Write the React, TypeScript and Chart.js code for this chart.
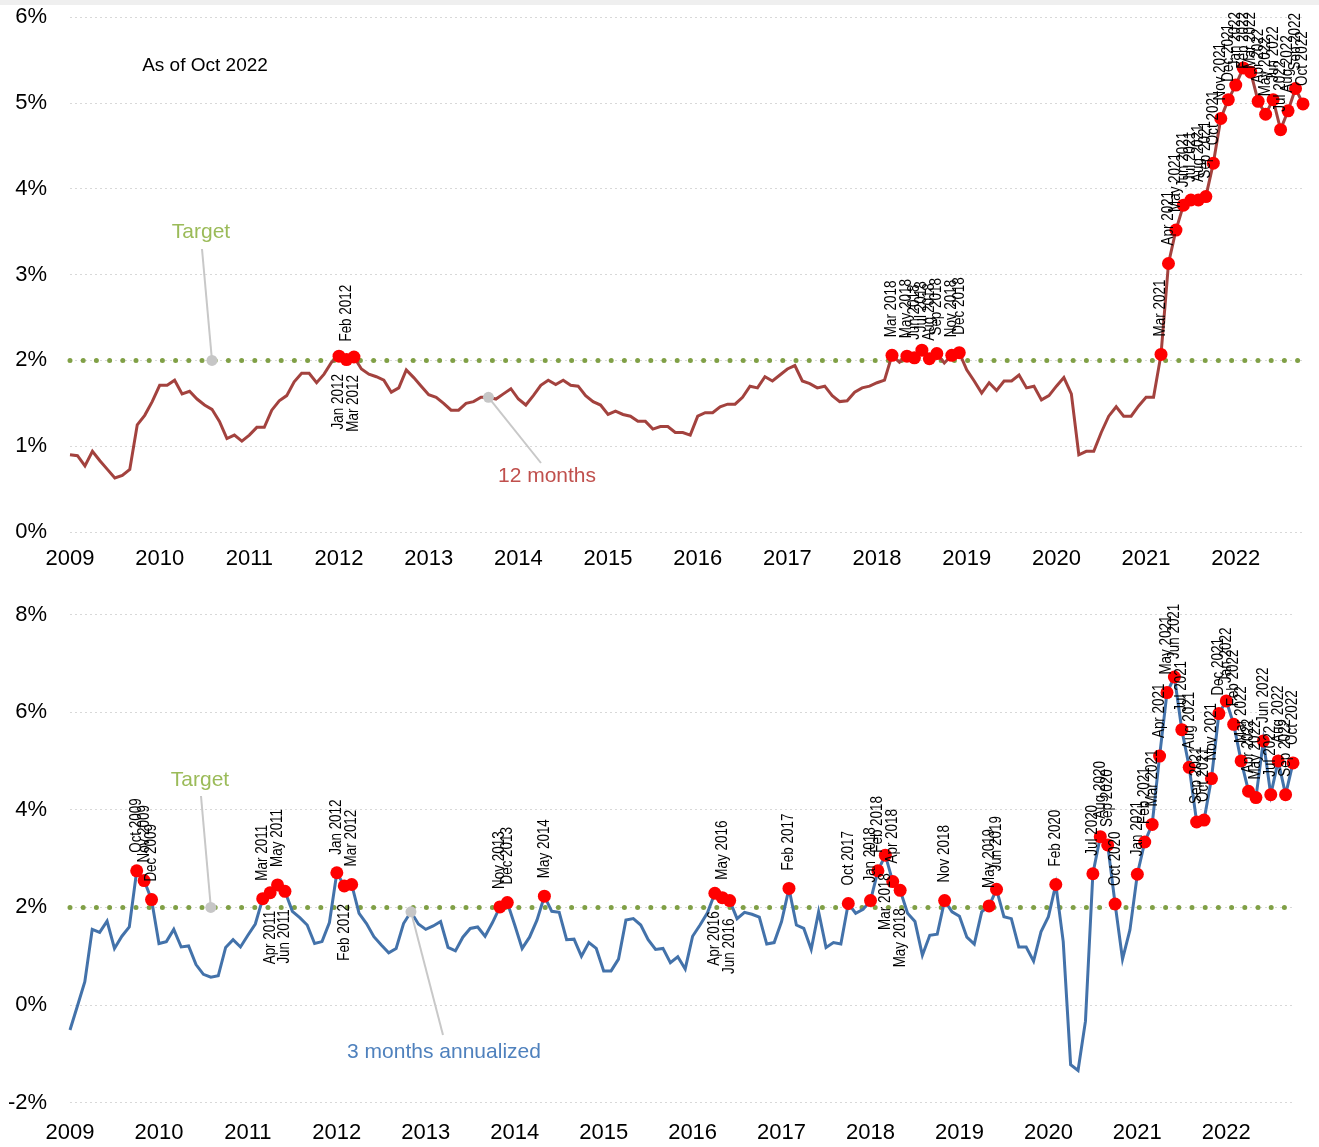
import React, { useEffect, useRef } from "react";
import { Chart, registerables } from "chart.js";

Chart.register(...registerables);

// ---------- data ----------
const MONTH_NAMES = ["Jan", "Feb", "Mar", "Apr", "May", "Jun", "Jul", "Aug", "Sep", "Oct", "Nov", "Dec"];
const YEARS = [2009, 2010, 2011, 2012, 2013, 2014, 2015, 2016, 2017, 2018, 2019, 2020, 2021, 2022];
const YEAR_TICK_LABELS = YEARS.map((y) => String(y));

// 12-month change, Jan 2009 .. Oct 2022
const TWELVE_MONTHS = [
  0.9, 0.89, 0.77, 0.94, 0.83, 0.73, 0.63, 0.66, 0.73, 1.25, 1.36, 1.52,
  1.71, 1.71, 1.77, 1.61, 1.64, 1.55, 1.48, 1.43, 1.29, 1.09, 1.13, 1.06,
  1.13, 1.22, 1.22, 1.42, 1.53, 1.59, 1.75, 1.85, 1.85, 1.74, 1.84, 1.98,
  2.05, 2.01, 2.04, 1.9, 1.84, 1.81, 1.77, 1.63, 1.68, 1.89, 1.8, 1.7,
  1.6, 1.57, 1.5, 1.42, 1.42, 1.5, 1.52, 1.57, 1.57, 1.55, 1.61, 1.67,
  1.55, 1.48, 1.59, 1.71, 1.77, 1.72, 1.77, 1.71, 1.7, 1.59, 1.52, 1.48,
  1.37, 1.41, 1.37, 1.35, 1.29, 1.29, 1.2, 1.23, 1.23, 1.16, 1.16, 1.13,
  1.35, 1.39, 1.39, 1.46, 1.49, 1.49, 1.57, 1.7, 1.68, 1.81, 1.76, 1.83,
  1.9, 1.94, 1.76, 1.73, 1.68, 1.7, 1.59, 1.52, 1.53, 1.63, 1.68, 1.7,
  1.74, 1.77, 2.06, 1.98, 2.05, 2.03, 2.12, 2.02, 2.08, 1.97, 2.06, 2.09,
  1.89, 1.76, 1.62, 1.74, 1.65, 1.76, 1.76, 1.83, 1.68, 1.7, 1.54, 1.59,
  1.7, 1.8, 1.61, 0.9, 0.94, 0.94, 1.16, 1.35, 1.46, 1.35, 1.35, 1.47,
  1.57, 1.57, 2.07, 3.13, 3.52, 3.81, 3.87, 3.87, 3.91, 4.3, 4.82, 5.04,
  5.21, 5.41, 5.36, 5.02, 4.87, 5.04, 4.69, 4.91, 5.17, 4.99,
];

// 3-month annualized change, Jan 2009 .. Oct 2022
const THREE_MONTHS_ANNUALIZED = [
  -0.51, -0.02, 0.48, 1.55, 1.49, 1.72, 1.16, 1.41, 1.6, 2.75, 2.55, 2.16,
  1.26, 1.3, 1.55, 1.19, 1.21, 0.83, 0.63, 0.57, 0.6, 1.18, 1.34, 1.19,
  1.43, 1.66, 2.18, 2.3, 2.46, 2.33, 1.92, 1.79, 1.64, 1.26, 1.3, 1.69,
  2.71, 2.44, 2.47, 1.88, 1.67, 1.4, 1.23, 1.07, 1.16, 1.67, 1.91, 1.66,
  1.55, 1.62, 1.71, 1.18, 1.11, 1.39, 1.57, 1.6, 1.41, 1.69, 2.01, 2.1,
  1.64, 1.16, 1.39, 1.74, 2.23, 1.92, 1.9, 1.34, 1.35, 1.0, 1.28, 1.16,
  0.7, 0.7, 0.94, 1.74, 1.77, 1.64, 1.34, 1.14, 1.16, 0.87, 0.99, 0.74,
  1.41, 1.64, 1.89, 2.29, 2.2, 2.14, 1.77, 1.9, 1.86, 1.8, 1.25, 1.28,
  1.71, 2.39, 1.64, 1.57, 1.14, 1.91, 1.18, 1.28, 1.25, 2.08, 1.88, 1.96,
  2.14, 2.75, 3.07, 2.53, 2.35, 1.88, 1.71, 1.02, 1.43, 1.45, 2.14, 1.91,
  1.82, 1.39, 1.25, 1.91, 2.03, 2.37, 1.81, 1.77, 1.19, 1.19, 0.9, 1.5,
  1.81, 2.47, 1.3, -1.22, -1.34, -0.33, 2.69, 3.45, 3.28, 2.07, 0.94, 1.54,
  2.68, 3.34, 3.7, 5.1, 6.4, 6.72, 5.64, 4.87, 3.75, 3.79, 4.64, 5.97,
  6.23, 5.75, 5.0, 4.38, 4.25, 5.41, 4.31, 5.0, 4.31, 4.96,
];

const MONTH_CATEGORIES: string[] = YEARS.flatMap((y) => MONTH_NAMES.map((m) => `${m} ${y}`)).slice(
  0,
  TWELVE_MONTHS.length
);

const TARGET = 2;
const TOP_Y_TICKS = [0, 1, 2, 3, 4, 5, 6];
const BOTTOM_Y_TICKS = [-2, 0, 2, 4, 6, 8];
const TOP_LABELS_BELOW = ["Jan 2012", "Mar 2012"];
const BOTTOM_LABELS_BELOW = ["Apr 2011", "Jun 2011", "Feb 2012", "Apr 2016", "Jun 2016", "Mar 2018", "May 2018"];

// ---------- styling ----------
const FONT = '"Liberation Sans", Arial, sans-serif';
const LABEL_SCALE = 0.84;
const LABEL_OFFSET = 18;

type Annotation = {
  text: string;
  color: string;
  ax: number;
  ay: number;
  textX: number;
  textY: number;
  lineX: number;
  lineY: number;
};

type PanelSpec = {
  values: number[];
  color: string;
  yMin: number;
  yMax: number;
  yTicks: number[];
  height: number;
  padTop: number;
  padRight: number;
  xAxisHeight: number;
  xTickPadding: number;
  labelsBelow: string[];
  labelMinTop: number;
  annotations: Annotation[];
  texts: { text: string; x: number; y: number; size: number; color: string }[];
};

const TOP_PANEL: PanelSpec = {
  values: TWELVE_MONTHS,
  color: "#a3423e",
  yMin: 0,
  yMax: 6,
  yTicks: TOP_Y_TICKS,
  height: 580,
  padTop: 17.3,
  padRight: 16,
  xAxisHeight: 48,
  xTickPadding: 14,
  labelsBelow: TOP_LABELS_BELOW,
  labelMinTop: 12,
  annotations: [
    { text: "Target", color: "#9bbb59", ax: 19, ay: TARGET, textX: 201, textY: 232, lineX: 202, lineY: 249 },
    { text: "12 months", color: "#c0504d", ax: 56, ay: TWELVE_MONTHS[56], textX: 547, textY: 476, lineX: 541, lineY: 463 },
  ],
  texts: [{ text: "As of Oct 2022", x: 205, y: 66, size: 19, color: "#000" }],
};

const BOTTOM_PANEL: PanelSpec = {
  values: THREE_MONTHS_ANNUALIZED,
  color: "#4372aa",
  yMin: -2,
  yMax: 8,
  yTicks: BOTTOM_Y_TICKS,
  height: 567,
  padTop: 34.5,
  padRight: 26,
  xAxisHeight: 44.3,
  xTickPadding: 17,
  labelsBelow: BOTTOM_LABELS_BELOW,
  labelMinTop: 4,
  annotations: [
    { text: "Target", color: "#9bbb59", ax: 19, ay: TARGET, textX: 200, textY: 200, lineX: 201, lineY: 216 },
    {
      text: "3 months annualized",
      color: "#4f81bd",
      ax: 46,
      ay: THREE_MONTHS_ANNUALIZED[46],
      textX: 444,
      textY: 472,
      lineX: 443,
      lineY: 455,
    },
  ],
  texts: [],
};

function overlayPlugin(spec: PanelSpec) {
  return {
    id: "overlay",
    afterDatasetsDraw(chart: any) {
      const ctx: CanvasRenderingContext2D = chart.ctx;
      const xs = chart.scales.x;
      const ys = chart.scales.y;
      ctx.save();
      // annotations with connectors
      for (const a of spec.annotations) {
        const px = xs.getPixelForValue(a.ax);
        const py = ys.getPixelForValue(a.ay);
        ctx.strokeStyle = "#c8c8c8";
        ctx.lineWidth = 2;
        ctx.beginPath();
        ctx.moveTo(a.lineX, a.lineY);
        ctx.lineTo(px, py);
        ctx.stroke();
        ctx.fillStyle = "#c6c6c6";
        ctx.beginPath();
        ctx.arc(px, py, 5.5, 0, Math.PI * 2);
        ctx.fill();
        ctx.fillStyle = a.color;
        ctx.font = `21px ${FONT}`;
        ctx.textAlign = "center";
        ctx.textBaseline = "middle";
        ctx.fillText(a.text, a.textX, a.textY);
      }
      for (const t of spec.texts) {
        ctx.fillStyle = t.color;
        ctx.font = `${t.size}px ${FONT}`;
        ctx.textAlign = "center";
        ctx.textBaseline = "middle";
        ctx.fillText(t.text, t.x, t.y);
      }
      // point labels
      ctx.font = `16px ${FONT}`;
      ctx.fillStyle = "#000";
      ctx.textBaseline = "middle";
      spec.values.forEach((v, i) => {
        if (v < TARGET) return;
        const label = MONTH_CATEGORIES[i];
        const px = xs.getPixelForValue(i);
        const py = ys.getPixelForValue(v);
        const w = ctx.measureText(label).width * LABEL_SCALE;
        ctx.save();
        if (spec.labelsBelow.includes(label)) {
          ctx.translate(px, py + LABEL_OFFSET);
          ctx.rotate(-Math.PI / 2);
          ctx.scale(LABEL_SCALE, 1);
          ctx.textAlign = "right";
          ctx.fillText(label, 0, 0);
        } else {
          let start = py - LABEL_OFFSET;
          if (start - w < spec.labelMinTop) start = spec.labelMinTop + w;
          ctx.translate(px, start);
          ctx.rotate(-Math.PI / 2);
          ctx.scale(LABEL_SCALE, 1);
          ctx.textAlign = "left";
          ctx.fillText(label, 0, 0);
        }
        ctx.restore();
      });
      ctx.restore();
    },
  };
}

function buildConfig(spec: PanelSpec): any {
  const n = spec.values.length;
  const points = spec.values.map((v, i) => ({ x: i, y: v }));
  return {
    type: "line",
    data: {
      datasets: [
        {
          label: "series",
          data: points,
          borderColor: spec.color,
          borderWidth: 3,
          tension: 0,
          clip: false,
          order: 0,
          pointRadius: (c: any) => (spec.values[c.dataIndex] >= TARGET ? 6.5 : 0),
          pointHoverRadius: 0,
          pointBackgroundColor: "#ff0000",
          pointBorderColor: "#ff0000",
          pointBorderWidth: 0,
        },
        {
          label: "Target",
          data: [
            { x: 0, y: TARGET },
            { x: n - 1, y: TARGET },
          ],
          borderColor: "#80a046",
          borderWidth: 5,
          borderDash: [0, 13.2],
          borderCapStyle: "round",
          pointRadius: 0,
          clip: false,
          order: 1,
        },
      ],
    },
    options: {
      animation: false,
      responsive: false,
      events: [],
      layout: { padding: { top: spec.padTop, right: spec.padRight, left: 0, bottom: 0 } },
      plugins: { legend: { display: false }, tooltip: { enabled: false } },
      scales: {
        x: {
          type: "linear",
          min: 0,
          max: n - 1,
          grid: { display: false, drawTicks: false },
          border: { display: false },
          afterBuildTicks: (s: any) => {
            s.ticks = YEAR_TICK_LABELS.map((_, k) => ({ value: k * 12 }));
          },
          afterFit: (s: any) => {
            s.height = spec.xAxisHeight;
            s.paddingLeft = 0;
            s.paddingRight = 0;
          },
          ticks: {
            autoSkip: false,
            maxRotation: 0,
            minRotation: 0,
            padding: spec.xTickPadding,
            color: "#000",
            font: { family: FONT, size: 22 },
            callback: (v: number) => YEAR_TICK_LABELS[Math.round(v / 12)],
          },
        },
        y: {
          min: spec.yMin,
          max: spec.yMax,
          afterBuildTicks: (s: any) => {
            s.ticks = spec.yTicks.map((v) => ({ value: v }));
          },
          afterFit: (s: any) => {
            s.width = 70;
            s.paddingTop = 0;
            s.paddingBottom = 0;
          },
          grid: { color: "#d8d8d8", lineWidth: 1, drawTicks: false },
          border: { display: false, dash: [2, 3] },
          ticks: {
            padding: 23,
            color: "#000",
            font: { family: FONT, size: 22 },
            callback: (v: number) => `${v}%`,
          },
        },
      },
    },
    plugins: [overlayPlugin(spec)],
  };
}

function Panel({ spec, top }: { spec: PanelSpec; top: number }) {
  const ref = useRef<HTMLCanvasElement>(null);
  useEffect(() => {
    const chart = new Chart(ref.current as HTMLCanvasElement, buildConfig(spec));
    return () => chart.destroy();
  }, [spec]);
  return (
    <canvas
      ref={ref}
      width={1319}
      height={spec.height}
      style={{ position: "absolute", left: 0, top, width: 1319, height: spec.height }}
    />
  );
}

export default function App() {
  return (
    <div style={{ position: "absolute", left: 0, top: 0, width: 1319, height: 1147, background: "#fff", overflow: "hidden" }}>
      <Panel spec={TOP_PANEL} top={0} />
      <Panel spec={BOTTOM_PANEL} top={580} />
      <div style={{ position: "absolute", left: 0, top: 0, width: 1319, height: 5, background: "#efefef" }} />
    </div>
  );
}
